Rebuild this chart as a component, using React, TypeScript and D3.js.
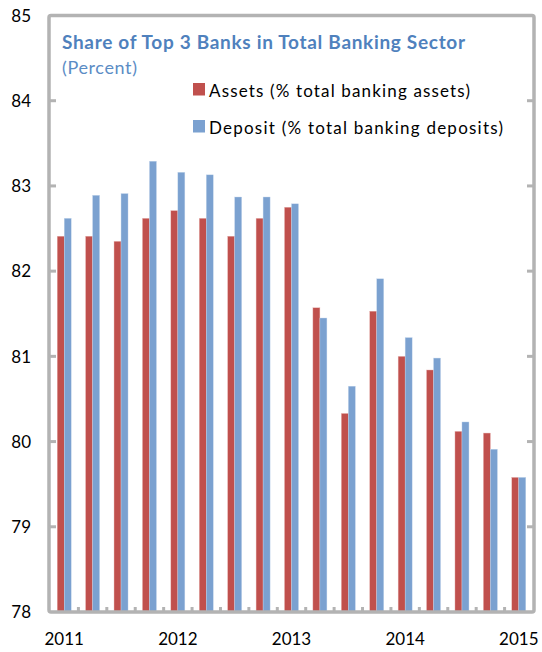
import React from "react";
import * as d3 from "d3";

const quarters = [
  "2011Q1", "2011Q2", "2011Q3", "2011Q4",
  "2012Q1", "2012Q2", "2012Q3", "2012Q4",
  "2013Q1", "2013Q2", "2013Q3", "2013Q4",
  "2014Q1", "2014Q2", "2014Q3", "2014Q4",
  "2015Q1",
];
const assets = [82.41, 82.41, 82.35, 82.62, 82.71, 82.62, 82.41, 82.62, 82.75, 81.57, 80.33, 81.53, 81.0, 80.84, 80.12, 80.1, 79.58];
const deposits = [82.62, 82.89, 82.91, 83.29, 83.16, 83.13, 82.87, 82.87, 82.79, 81.45, 80.65, 81.91, 81.22, 80.98, 80.23, 79.91, 79.58];
const yTicks = [78, 79, 80, 81, 82, 83, 84, 85];
const yearLabels = [
  { q: "2011Q1", label: "2011" },
  { q: "2012Q1", label: "2012" },
  { q: "2013Q1", label: "2013" },
  { q: "2014Q1", label: "2014" },
  { q: "2015Q1", label: "2015" },
];
const title = "Share of Top 3 Banks in Total Banking Sector";
const subtitle = "(Percent)";
const legendItems = [
  { label: "Assets (% total banking assets)", color: "#C0504D", len: 261 },
  { label: "Deposit (% total banking deposits)", color: "#7BA1D0", len: 294 },
];

const W = 542;
const H = 652;
const FONT = "Lato, 'Open Sans', sans-serif";

export default function App() {
  const left = 50;
  const right = 533;
  const top = 15.5;
  const bottom = 612;
  const x = d3.scaleBand<string>().domain(quarters).range([left, right]).paddingInner(0).paddingOuter(0);
  const y = d3.scaleLinear().domain([78, 85]).range([bottom, top]);
  const bw = 7;

  return (
    <svg width={W} height={H} style={{ position: "absolute", left: 0, top: 0, background: "#fff" }}>
      {/* bars */}
      {quarters.map((q, i) => {
        const c = (x(q) as number) + x.bandwidth() / 2;
        return (
          <g key={q}>
            <rect x={c - bw} y={y(assets[i])} width={bw} height={bottom - y(assets[i])} fill="#C0504D" stroke="#E8B8B6" strokeWidth={0.4} />
            <rect x={c} y={y(deposits[i])} width={bw} height={bottom - y(deposits[i])} fill="#7BA1D0" stroke="#C4D6EC" strokeWidth={0.4} />
          </g>
        );
      })}
      {/* frame */}
      <rect x={49} y={top} width={right + 1 - 49} height={bottom - top} fill="none" stroke="#B3B3B3" strokeWidth={3.5} rx={2} />
      {/* left ticks & right ticks */}
      {yTicks.slice(1, -1).map((t) => (
        <g key={t}>
          <line x1={49} x2={56} y1={y(t)} y2={y(t)} stroke="#B3B3B3" strokeWidth={3} />
          <line x1={right + 1} x2={right - 6} y1={y(t)} y2={y(t)} stroke="#B3B3B3" strokeWidth={3} />
        </g>
      ))}
      {/* bottom ticks between categories */}
      {quarters.slice(1).map((q) => (
        <line key={q} x1={x(q) as number} x2={x(q) as number} y1={bottom} y2={bottom - 5} stroke="#B3B3B3" strokeWidth={3} />
      ))}
      {/* y labels */}
      {yTicks.map((t) => (
        <text key={t} x={31} y={y(t) + 2} textAnchor="end" dominantBaseline="middle" fontFamily={FONT} fontSize={17} fill="#000">
          {t}
        </text>
      ))}
      {/* x labels */}
      {yearLabels.map((d) => (
        <text key={d.label} x={(x(d.q) as number) + x.bandwidth() / 2} y={641} textAnchor="middle" dominantBaseline="middle" fontFamily={FONT} fontSize={17} fill="#000">
          {d.label}
        </text>
      ))}
      {/* title */}
      <text x={62} y={49} fontFamily={FONT} fontSize={19} fontWeight={700} fill="#4F81BD" textLength={403} lengthAdjust="spacing">
        {title}
      </text>
      <text x={62} y={73.5} fontFamily={FONT} fontSize={18} fill="#5B8CC5" textLength={75} lengthAdjust="spacing">
        {subtitle}
      </text>
      {/* legend */}
      {legendItems.map((d, i) => (
        <g key={d.label} transform={`translate(193, ${83 + i * 37})`}>
          <rect x={0} y={0} width={12} height={12.5} fill={d.color} />
          <text x={16} y={13.5} fontFamily={FONT} fontSize={17} fill="#000" textLength={d.len} lengthAdjust="spacing">
            {d.label}
          </text>
        </g>
      ))}
    </svg>
  );
}
